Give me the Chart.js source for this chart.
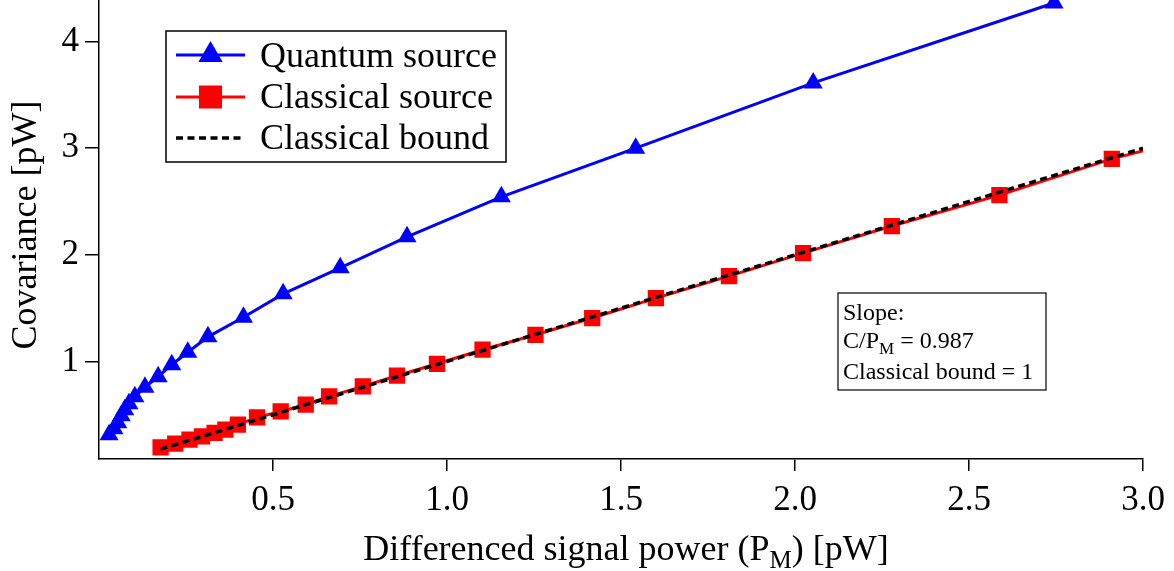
<!DOCTYPE html>
<html>
<head>
<meta charset="utf-8">
<script src="https://cdn.jsdelivr.net/npm/chart.js@4.4.0/dist/chart.umd.min.js"></script>
<style>
html,body{margin:0;padding:0;background:#fff;}
canvas{display:block;}
</style>
</head>
<body>
<canvas id="c" width="1174" height="571"></canvas>
<script>
// ---- data ----
const quantumX = [0.029,0.043,0.054,0.064,0.074,0.086,0.103,0.132,0.170,0.209,0.255,0.313,0.415,0.529,0.693,0.885,1.156,1.542,2.052,2.744];
const quantumY = [0.313,0.369,0.425,0.491,0.547,0.604,0.669,0.758,0.857,0.969,1.086,1.231,1.414,1.634,1.878,2.169,2.544,3.000,3.612,4.362];

const classicalX = [0.177,0.219,0.260,0.296,0.332,0.363,0.399,0.454,0.522,0.594,0.661,0.758,0.856,0.971,1.102,1.254,1.417,1.600,1.810,2.023,2.278,2.587,2.910,3.000];
const classicalY = [0.194,0.229,0.267,0.297,0.329,0.360,0.407,0.475,0.531,0.594,0.672,0.766,0.866,0.978,1.110,1.250,1.407,1.594,1.800,2.016,2.270,2.560,2.900,2.975];
const classicalMarker = [1,1,1,1,1,1,1,1,1,1,1,1,1,1,1,1,1,1,1,1,1,1,1,0];

const boundX = [0.177, 3.0];
const boundY = [0.177, 3.0];

const xTicks = [0.5, 1.0, 1.5, 2.0, 2.5, 3.0];
const xTickLabels = ['0.5','1.0','1.5','2.0','2.5','3.0'];
const yTicks = [1, 2, 3, 4];
const yTickLabels = ['1','2','3','4'];

const seriesNames = ['Quantum source', 'Classical source', 'Classical bound'];
const slopeLines = ['Slope:', 'C/P', 'M', ' = 0.987', 'Classical bound = 1'];
const xTitleParts = ['Differenced signal power (P', 'M', ') [pW]'];
const yTitle = 'Covariance [pW]';

const pts = (xs, ys) => xs.map((x, i) => ({x: x, y: ys[i]}));
const SERIF = "'Liberation Serif', 'DejaVu Serif', serif";

const overlay = {
  id: 'overlay',
  afterDraw(chart) {
    const ctx = chart.ctx;
    ctx.save();
    ctx.fillStyle = '#000';
    // y title
    ctx.save();
    ctx.translate(27, 225);
    ctx.rotate(-Math.PI / 2);
    ctx.font = '36px ' + SERIF;
    ctx.textAlign = 'center';
    ctx.textBaseline = 'middle';
    ctx.fillText(yTitle, 0, 0);
    ctx.restore();

    // x title with subscript
    ctx.font = '36px ' + SERIF;
    const w1 = ctx.measureText(xTitleParts[0]).width;
    const w3 = ctx.measureText(xTitleParts[2]).width;
    ctx.font = '25px ' + SERIF;
    const w2 = ctx.measureText(xTitleParts[1]).width;
    const total = w1 + w2 + w3;
    let xx = 626 - total / 2;
    const base = 560;
    ctx.textAlign = 'left';
    ctx.textBaseline = 'alphabetic';
    ctx.font = '36px ' + SERIF;
    ctx.fillText(xTitleParts[0], xx, base); xx += w1;
    ctx.font = '25px ' + SERIF;
    ctx.fillText(xTitleParts[1], xx, base + 8); xx += w2;
    ctx.font = '36px ' + SERIF;
    ctx.fillText(xTitleParts[2], xx, base);

    // legend box
    ctx.fillStyle = '#fff';
    ctx.fillRect(166, 31, 340, 131);
    ctx.strokeStyle = '#000';
    ctx.lineWidth = 1.5;
    ctx.strokeRect(166, 31, 340, 131);
    const rows = [55, 97, 138];
    const bases = [67, 108, 149];
    const dsets = chart.data.datasets;
    for (let i = 0; i < 3; i++) {
      const ds = dsets[i];
      ctx.save();
      ctx.strokeStyle = ds.borderColor;
      ctx.lineWidth = ds.borderWidth;
      ctx.setLineDash(ds.borderDash || []);
      ctx.beginPath();
      ctx.moveTo(176, rows[i]);
      ctx.lineTo(245, rows[i]);
      ctx.stroke();
      ctx.restore();
      ctx.fillStyle = ds.borderColor;
      if (i === 0) {
        const r = 14;
        ctx.beginPath();
        ctx.moveTo(210.5, rows[i] - r);
        ctx.lineTo(210.5 + r * 0.866, rows[i] + r * 0.5);
        ctx.lineTo(210.5 - r * 0.866, rows[i] + r * 0.5);
        ctx.closePath();
        ctx.fill();
      } else if (i === 1) {
        ctx.fillRect(199, rows[i] - 11.5, 23, 23);
      }
      ctx.fillStyle = '#000';
      ctx.font = '36px ' + SERIF;
      ctx.textAlign = 'left';
      ctx.textBaseline = 'alphabetic';
      ctx.fillText(seriesNames[i], 260, bases[i]);
    }

    // slope annotation box
    ctx.fillStyle = '#fff';
    ctx.fillRect(838, 293, 208, 97);
    ctx.strokeStyle = '#000';
    ctx.lineWidth = 1.2;
    ctx.strokeRect(838, 293, 208, 97);
    ctx.fillStyle = '#000';
    ctx.font = '24px ' + SERIF;
    ctx.fillText(slopeLines[0], 843, 320);
    ctx.fillText(slopeLines[1], 843, 348);
    let sx = 843 + ctx.measureText(slopeLines[1]).width;
    ctx.font = '17px ' + SERIF;
    ctx.fillText(slopeLines[2], sx, 354);
    sx += ctx.measureText(slopeLines[2]).width;
    ctx.font = '24px ' + SERIF;
    ctx.fillText(slopeLines[3], sx, 348);
    ctx.fillText(slopeLines[4], 843, 379);
    ctx.restore();
  }
};

new Chart(document.getElementById('c'), {
  type: 'line',
  data: {
    datasets: [
      {
        label: seriesNames[0],
        data: pts(quantumX, quantumY),
        borderColor: '#0000ff',
        backgroundColor: '#0000ff',
        borderWidth: 3,
        pointStyle: 'triangle',
        pointRadius: 11,
        pointBorderWidth: 0,
        tension: 0,
        order: 1
      },
      {
        label: seriesNames[1],
        data: pts(classicalX, classicalY),
        borderColor: '#ff0000',
        backgroundColor: '#ff0000',
        borderWidth: 3,
        pointStyle: 'rect',
        pointRadius: (c) => classicalMarker[c.dataIndex] ? 11.5 : 0,
        pointBorderWidth: 0,
        tension: 0,
        order: 2
      },
      {
        label: seriesNames[2],
        data: pts(boundX, boundY),
        borderColor: '#000000',
        backgroundColor: '#000000',
        borderWidth: 3.5,
        borderDash: [7, 4.5],
        pointRadius: 0,
        tension: 0,
        order: 0
      }
    ]
  },
  options: {
    responsive: false,
    animation: false,
    devicePixelRatio: 1,
    layout: { autoPadding: false, padding: { left: 0, right: 28, top: 0, bottom: 0 } },
    plugins: { legend: { display: false }, tooltip: { enabled: false } },
    scales: {
      x: {
        type: 'linear',
        min: 0,
        max: 3.0,
        afterBuildTicks: (s) => { s.ticks = xTicks.map(v => ({value: v})); },
        afterFit: (s) => { s.height = 112; s.paddingLeft = 0; },
        ticks: {
          font: { family: SERIF, size: 35 },
          color: '#000',
          padding: 9,
          maxRotation: 0,
          autoSkip: false,
          callback: (v) => xTickLabels[xTicks.indexOf(v)]
        },
        grid: { display: true, drawOnChartArea: false, drawTicks: true, tickLength: 12, color: '#000', lineWidth: 1.5 },
        border: { display: true, color: '#000', width: 1.5 }
      },
      y: {
        type: 'linear',
        min: 0.085,
        max: 4.39,
        afterBuildTicks: (s) => { s.ticks = yTicks.map(v => ({value: v})); },
        afterFit: (s) => { s.width = 99; s.paddingTop = 0; s.paddingBottom = 0; },
        ticks: {
          font: { family: SERIF, size: 35 },
          color: '#000',
          padding: 6,
          autoSkip: false,
          callback: (v) => yTickLabels[yTicks.indexOf(v)]
        },
        grid: { display: true, drawOnChartArea: false, drawTicks: true, tickLength: 14, color: '#000', lineWidth: 1.5 },
        border: { display: true, color: '#000', width: 1.5 }
      }
    }
  },
  plugins: [overlay]
});
</script>
</body>
</html>
